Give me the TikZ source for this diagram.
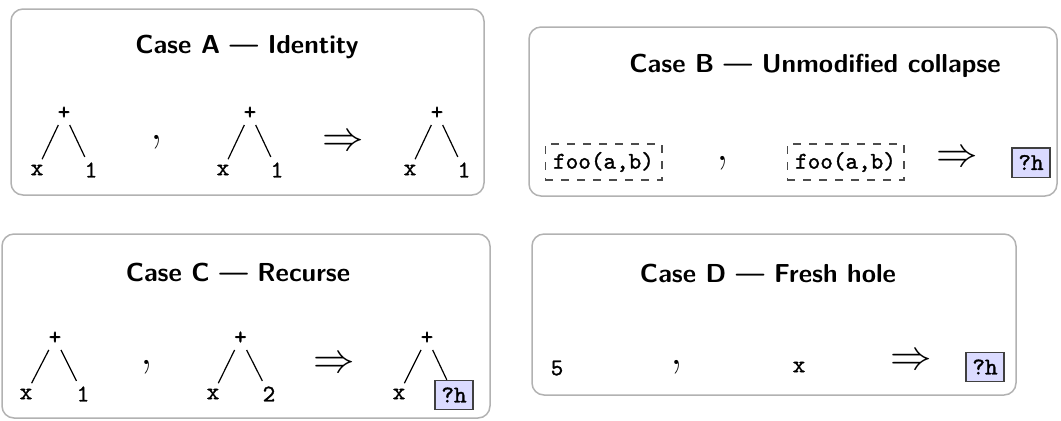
\documentclass[tikz,border=0pt]{standalone}
\usepackage{fontspec}
\newfontfamily\codefont{lmmono10-regular.otf}[FakeBold=1.3]
\begin{document}
\begin{tikzpicture}[x=0.5pt, y=-0.5pt,
  panel/.style={draw=black!30, line width=0.75pt, rounded corners=6pt, fill=white},
  heading/.style={font=\fontsize{13}{16}\selectfont\sffamily\bfseries, inner sep=0pt},
  sym/.style={font=\fontsize{12}{14}\selectfont\codefont, inner sep=2.6pt},
  sep/.style={font=\fontsize{25}{28}\selectfont, inner sep=0pt},
  imp/.style={font=\fontsize{21}{24}\selectfont, inner sep=0pt},
  hole/.style={draw=black!75, fill=blue!14, line width=0.6pt,
               font=\fontsize{12}{14}\selectfont\codefont, inner xsep=3.2pt, inner ysep=3.6pt},
  opaque/.style={draw=black!70, dash pattern=on 4pt off 4pt, line width=0.6pt,
                 font=\fontsize{12}{14}\selectfont\codefont, inner xsep=4pt, inner ysep=4pt},
  branch/.style={line width=0.6pt}]

\useasboundingbox (0,0) rectangle (1061,420);

% panels
\draw[panel] (11,9) rectangle (484,195);
\draw[panel] (529,27) rectangle (1057,196);
\draw[panel] (2,234) rectangle (490,418);
\draw[panel] (532,234) rectangle (1016,395);

% ---- Case A
\node[heading] (tA) at (247,47) {Case A --- Identity};
\node[sym] (a1p) at (64,113) {+};
\node[sym] (a1x) at (37,170) {x};
\node[sym] (a1n) at (91,170) {1};
\draw[branch] (a1p) -- (a1x) (a1p) -- (a1n);
\node[sep] (aC) at (157,142) {,};
\node[sym] (a2p) at (250,113) {+};
\node[sym] (a2x) at (223,170) {x};
\node[sym] (a2n) at (277,170) {1};
\draw[branch] (a2p) -- (a2x) (a2p) -- (a2n);
\node[imp] (aI) at (343,143) {$\Rightarrow$};
\node[sym] (a3p) at (437,113) {+};
\node[sym] (a3x) at (410,170) {x};
\node[sym] (a3n) at (464,170) {1};
\draw[branch] (a3p) -- (a3x) (a3p) -- (a3n);

% ---- Case B
\node[heading] (tB) at (815,66) {Case B --- Unmodified collapse};
\node[opaque] (b1) at (603.5,162) {foo(a,b)};
\node[sep] (bC) at (723,163) {,};
\node[opaque] (b2) at (845.5,162) {foo(a,b)};
\node[imp] (bI) at (957,159) {$\Rightarrow$};
\node[hole] (bH) at (1031,162.5) {?h};

% ---- Case C
\node[heading] (tC) at (238,272) {Case C --- Recurse};
\node[sym] (c1p) at (55,338) {+};
\node[sym] (c1x) at (26,394) {x};
\node[sym] (c1n) at (83,394) {1};
\draw[branch] (c1p) -- (c1x) (c1p) -- (c1n);
\node[sep] (cC) at (147,367) {,};
\node[sym] (c2p) at (240.5,338) {+};
\node[sym] (c2x) at (213,394) {x};
\node[sym] (c2n) at (269,394) {2};
\draw[branch] (c2p) -- (c2x) (c2p) -- (c2n);
\node[imp] (cI) at (334,365) {$\Rightarrow$};
\node[sym] (c3p) at (427,338) {+};
\node[sym] (c3x) at (399,394) {x};
\node[hole] (c3h) at (454,395) {?h};
\draw[branch] (c3p) -- (c3x) (c3p) -- (c3h);

% ---- Case D
\node[heading] (tD) at (768,273) {Case D --- Fresh hole};
\node[sym] (d5) at (557,368) {5};
\node[sep] (dC) at (677,367) {,};
\node[sym] (dx) at (799,367) {x};
\node[imp] (dI) at (911,362) {$\Rightarrow$};
\node[hole] (dH) at (985,367) {?h};

\end{tikzpicture}
\end{document}
